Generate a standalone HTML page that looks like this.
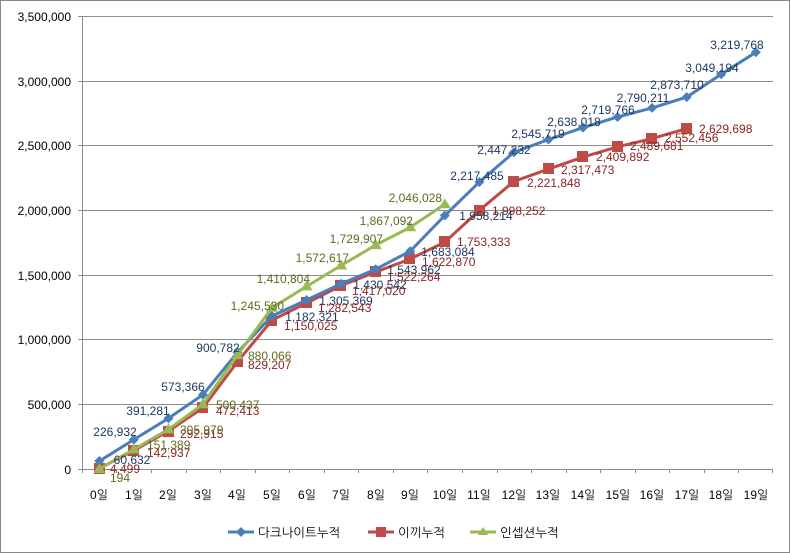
<!DOCTYPE html>
<html><head><meta charset="utf-8"><style>
body{margin:0;background:#fff}
svg{display:block}
text{font-family:"Liberation Sans","NanumGothic","Noto Sans CJK KR",sans-serif;font-size:12px}
.bl{fill:#1f3864}.rd{fill:#8b2323}.gr{fill:#5e6b1c}
.ax{fill:#000;font-size:12.5px}
</style></head><body>
<svg width="790" height="553" viewBox="0 0 790 553">
<rect x="0.5" y="0.5" width="789" height="552" fill="#fff" stroke="#888"/>
<g stroke="#8c8c8c" stroke-width="1">
<line x1="82" y1="16.5" x2="773" y2="16.5"/>
<line x1="82" y1="81.5" x2="773" y2="81.5"/>
<line x1="82" y1="145.5" x2="773" y2="145.5"/>
<line x1="82" y1="210.5" x2="773" y2="210.5"/>
<line x1="82" y1="275.5" x2="773" y2="275.5"/>
<line x1="82" y1="339.5" x2="773" y2="339.5"/>
<line x1="82" y1="404.5" x2="773" y2="404.5"/>
<line x1="82" y1="469.5" x2="773" y2="469.5"/>
<line x1="82.5" y1="16" x2="82.5" y2="473"/>
<line x1="78" y1="16.5" x2="82" y2="16.5"/><line x1="78" y1="81.5" x2="82" y2="81.5"/><line x1="78" y1="145.5" x2="82" y2="145.5"/><line x1="78" y1="210.5" x2="82" y2="210.5"/><line x1="78" y1="275.5" x2="82" y2="275.5"/><line x1="78" y1="339.5" x2="82" y2="339.5"/><line x1="78" y1="404.5" x2="82" y2="404.5"/><line x1="78" y1="469.5" x2="82" y2="469.5"/>
</g>
<g stroke="#8c8c8c"><path d="M116.5 469v4M151.5 469v4M186.5 469v4M220.5 469v4M255.5 469v4M289.5 469v4M324.5 469v4M358.5 469v4M393.5 469v4M427.5 469v4M462.5 469v4M497.5 469v4M531.5 469v4M566.5 469v4M600.5 469v4M635.5 469v4M669.5 469v4M704.5 469v4M738.5 469v4M772.5 469v4"/></g>
<g class="ax" text-anchor="end">
<text x="71" y="21">3,500,000</text><text x="71" y="86">3,000,000</text><text x="71" y="150">2,500,000</text><text x="71" y="215">2,000,000</text><text x="71" y="280">1,500,000</text><text x="71" y="344">1,000,000</text><text x="71" y="409">500,000</text><text x="71" y="474">0</text>
</g>
<g class="ax" text-anchor="middle">
<text x="99" y="499">0일</text><text x="134" y="499">1일</text><text x="168" y="499">2일</text><text x="203" y="499">3일</text><text x="237" y="499">4일</text><text x="272" y="499">5일</text><text x="307" y="499">6일</text><text x="341" y="499">7일</text><text x="376" y="499">8일</text><text x="410" y="499">9일</text><text x="445" y="499">10일</text><text x="479" y="499">11일</text><text x="514" y="499">12일</text><text x="548" y="499">13일</text><text x="583" y="499">14일</text><text x="618" y="499">15일</text><text x="652" y="499">16일</text><text x="687" y="499">17일</text><text x="721" y="499">18일</text><text x="756" y="499">19일</text>
</g>
<polyline fill="none" stroke="#be4b48" stroke-width="3" points="99.3,468.4 133.8,450.5 168.4,431.1 202.9,407.9 237.5,361.7 272,320.2 306.6,303 341.1,285.6 375.7,272 410.2,259 444.8,242.1 479.4,210.4 513.9,181.4 548.5,169.1 583,157.1 617.6,146.8 652.1,138.6 686.7,128.6"/>
<g fill="#be4b48">
<rect x="94" y="463" width="11" height="11"/><rect x="128" y="445" width="11" height="11"/><rect x="163" y="426" width="11" height="11"/><rect x="197" y="402" width="11" height="11"/><rect x="232" y="356" width="11" height="11"/><rect x="266" y="315" width="11" height="11"/><rect x="301" y="297" width="11" height="11"/><rect x="335" y="280" width="11" height="11"/><rect x="370" y="266" width="11" height="11"/><rect x="404" y="253" width="11" height="11"/><rect x="439" y="236" width="11" height="11"/><rect x="474" y="205" width="11" height="11"/><rect x="508" y="176" width="11" height="11"/><rect x="543" y="163" width="11" height="11"/><rect x="577" y="151" width="11" height="11"/><rect x="612" y="141" width="11" height="11"/><rect x="646" y="133" width="11" height="11"/><rect x="681" y="123" width="11" height="11"/>
</g>
<polyline fill="none" stroke="#4a7ebb" stroke-width="3" points="99.3,461.2 133.8,439.6 168.4,418.4 202.9,394.8 237.5,352.4 272,316 306.6,300 341.1,283.8 375.7,269.2 410.2,251.2 444.8,215.5 479.4,182 513.9,152.3 548.5,139.5 583,127.6 617.6,117 652.1,107.9 686.7,97.1 721.2,74.3 755.8,52.3"/>
<g fill="#4a7ebb">
<path d="M99.3 456l5 5-5 5-5-5z"/><path d="M133.8 434.6l5 5-5 5-5-5z"/><path d="M168.4 413.4l5 5-5 5-5-5z"/><path d="M202.9 389.8l5 5-5 5-5-5z"/><path d="M237.5 347.4l5 5-5 5-5-5z"/><path d="M272 311l5 5-5 5-5-5z"/><path d="M306.6 295l5 5-5 5-5-5z"/><path d="M341.1 278.8l5 5-5 5-5-5z"/><path d="M375.7 264.2l5 5-5 5-5-5z"/><path d="M410.2 246.2l5 5-5 5-5-5z"/><path d="M444.8 210.5l5 5-5 5-5-5z"/><path d="M479.4 177l5 5-5 5-5-5z"/><path d="M513.9 147.3l5 5-5 5-5-5z"/><path d="M548.5 134.5l5 5-5 5-5-5z"/><path d="M583 122.6l5 5-5 5-5-5z"/><path d="M617.6 112l5 5-5 5-5-5z"/><path d="M652.1 102.9l5 5-5 5-5-5z"/><path d="M686.7 92.1l5 5-5 5-5-5z"/><path d="M721.2 69.3l5 5-5 5-5-5z"/><path d="M755.8 47.3l5 5-5 5-5-5z"/>
</g>
<polyline fill="none" stroke="#98b954" stroke-width="3" points="99.3,469 133.8,449.4 168.4,429.4 202.9,404.2 237.5,355.1 272,307.8 306.6,286.4 341.1,265.5 375.7,245.1 410.2,227.3 444.8,204.2"/>
<g fill="#98b954">
<path d="M99.3 463l6 10h-12z"/><path d="M133.8 443.4l6 10h-12z"/><path d="M168.4 423.4l6 10h-12z"/><path d="M202.9 398.2l6 10h-12z"/><path d="M237.5 349.1l6 10h-12z"/><path d="M272 301.8l6 10h-12z"/><path d="M306.6 280.4l6 10h-12z"/><path d="M341.1 259.5l6 10h-12z"/><path d="M375.7 239.1l6 10h-12z"/><path d="M410.2 221.3l6 10h-12z"/><path d="M444.8 198.2l6 10h-12z"/>
</g>
<g class="bl" text-anchor="middle">
<text x="132" y="464">60,632</text>
<text x="115" y="436">226,932</text><text x="148" y="415">391,281</text><text x="183" y="391">573,366</text><text x="218" y="352">900,782</text>
<text x="312" y="321">1,182,321</text><text x="346" y="305">1,305,369</text><text x="380" y="289">1,430,542</text><text x="414" y="274">1,543,962</text><text x="448" y="256">1,683,084</text><text x="486" y="220">1,958,214</text>
<text x="477" y="180">2,217,485</text><text x="504" y="154">2,447,232</text><text x="538" y="138">2,545,719</text><text x="574" y="126">2,638,018</text><text x="608" y="114">2,719,766</text><text x="643" y="102">2,790,211</text><text x="677" y="89">2,873,710</text><text x="712" y="72">3,049,194</text><text x="737" y="49">3,219,768</text>
</g>
<g class="rd">
<text x="110" y="473">4,499</text><text x="147" y="457">142,937</text><text x="180" y="438">292,915</text><text x="216" y="415">472,413</text><text x="248" y="369">829,207</text><text x="284" y="330">1,150,025</text><text x="318" y="312">1,282,543</text><text x="352" y="295">1,417,020</text><text x="387" y="281">1,522,264</text><text x="422" y="266">1,622,870</text><text x="457" y="246">1,753,333</text><text x="492" y="215">1,998,252</text><text x="527" y="187">2,221,848</text><text x="561" y="174">2,317,473</text><text x="596" y="161">2,409,892</text><text x="630" y="150">2,489,681</text><text x="665" y="142">2,552,456</text><text x="699" y="133">2,629,698</text>
</g>
<g class="gr">
<text x="110" y="482">194</text><text x="147" y="449">151,389</text><text x="180" y="434">305,979</text><text x="216" y="409">500,437</text><text x="248" y="360">880,066</text>
</g>
<g class="gr" text-anchor="end">
<text x="284" y="310">1,245,530</text><text x="310" y="283">1,410,804</text><text x="349" y="262">1,572,617</text><text x="383" y="243">1,729,907</text><text x="413" y="225">1,867,092</text><text x="442" y="202">2,046,028</text>
</g>
<line x1="228" y1="532" x2="254" y2="532" stroke="#4a7ebb" stroke-width="3"/><path d="M241 527l5 5-5 5-5-5z" fill="#4a7ebb"/>
<text x="258" y="537" class="ax">다크나이트누적</text>
<line x1="368" y1="532" x2="394" y2="532" stroke="#be4b48" stroke-width="3"/><rect x="376" y="527" width="10" height="10" fill="#be4b48"/>
<text x="398" y="537" class="ax">이끼누적</text>
<line x1="470" y1="532" x2="496" y2="532" stroke="#98b954" stroke-width="3"/><path d="M483 527l5 8h-10z" fill="#98b954"/>
<text x="500" y="537" class="ax">인셉션누적</text>
</svg>
</body></html>
